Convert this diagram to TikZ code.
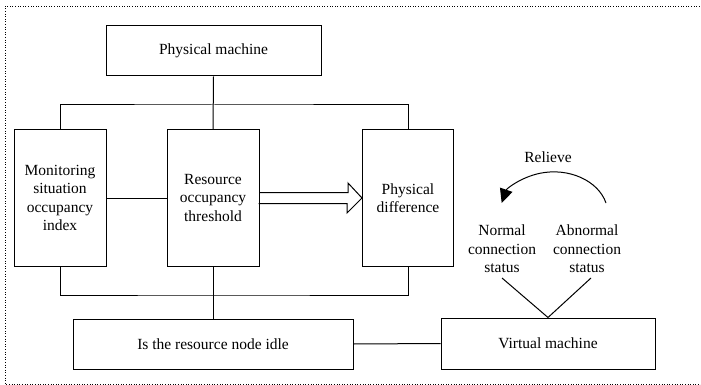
\documentclass[tikz,border=0pt]{standalone}
\usepackage{fontspec}
\setmainfont{Liberation Serif}
\usetikzlibrary{arrows.meta}
\begin{document}
\begin{tikzpicture}[x=1pt,y=-1pt,
  box/.style={draw,line width=1pt,align=center,inner sep=0pt},
  lbl/.style={align=center,inner sep=0pt},
  conn/.style={line width=1pt},
  font=\fontsize{15.5}{18.5}\selectfont]
\useasboundingbox (0,0) rectangle (701,385);
\draw[dotted,line width=0.6pt] (702,6) -- (5,6) -- (5,384) -- (702,384);
\node[box,minimum width=215,minimum height=50] (pm) at (213.5,51) {Physical machine};
\node[box,minimum width=92,minimum height=136] (mon) at (60,198) {Monitoring\\situation\\occupancy\\index};
\node[box,minimum width=92,minimum height=136] (res) at (213,198) {Resource\\occupancy\\threshold};
\node[box,minimum width=91,minimum height=136] (pd) at (408,198) {Physical\\difference};
\node[box,minimum width=280,minimum height=50] (idle) at (213,344) {Is the resource node idle};
\node[box,minimum width=214,minimum height=51] (vm) at (548,343.5) {Virtual machine};
\node[lbl] (nor) at (502,249) {Normal\\connection\\status};
\node[lbl] (abn) at (587,249) {Abnormal\\connection\\status};
\node[lbl] (rel) at (548,157) {Relieve};
\coordinate (tb) at (213,105);
\coordinate (bb) at (213,295);
\coordinate (nend) at (502,278);
\coordinate (aend) at (591,278);
\draw[conn] (pm.south) -- (res.north);
\draw[conn] (mon.north) |- (tb) -| (pd.north);
\draw[conn] (mon.south) |- (bb) -| (pd.south);
\draw[conn] (res.south) -- (idle.north);
\draw[conn] (mon.east) -- (res.west);
\draw[conn] (idle.east) -- (vm.west);
\draw[conn] (res.east) ++(0,-5.5) -- ++(88.5,0) -- ++(0,-9.5) -- (pd.west) -- ++(-15,15) -- ++(0,-9.5) -- ++(-88.5,0);
\draw[conn] (nend) -- (vm.north) -- (aend);
\coordinate (arcstart) at (606,203);
\draw[conn,-{Triangle[length=14pt,width=13pt]}] (arcstart) arc[start angle=-15,end angle=-165,x radius=54,y radius=42];
\end{tikzpicture}
\end{document}
